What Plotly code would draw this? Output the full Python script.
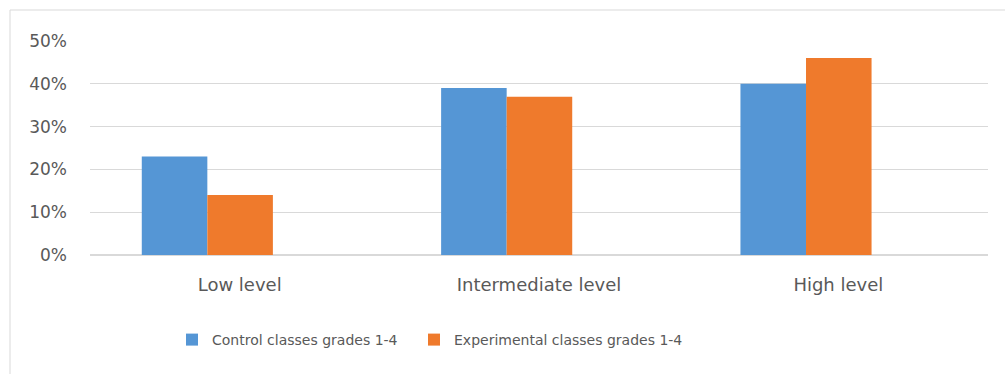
import plotly.graph_objects as go

# Share of pupils at each achievement level
levels = ["Low level", "Intermediate level", "High level"]
control = [0.23, 0.39, 0.40]
experimental = [0.14, 0.37, 0.46]
series_names = ["Control classes grades 1-4", "Experimental classes grades 1-4"]
y_ticks = [0, 0.1, 0.2, 0.3, 0.4, 0.5]

BLUE = "#5596d5"
ORANGE = "#ef7a2c"
TEXT = "#595959"
GRID = "#d9d9d9"

W, H = 1005, 374
ML, MR, MT, MB = 90, 17, 41, 119
PW, PH = W - ML - MR, H - MT - MB

def px_x(p):
    return (p - ML) / PW

def px_y(p):
    return (H - MB - p) / PH

fig = go.Figure()
fig.add_trace(go.Bar(
    x=levels, y=control, name=series_names[0],
    marker=dict(color=BLUE, line=dict(width=0)),
    offset=-0.327, width=0.219, legend="legend",
))
fig.add_trace(go.Bar(
    x=levels, y=experimental, name=series_names[1],
    marker=dict(color=ORANGE, line=dict(width=0)),
    offset=-0.108, width=0.219, legend="legend2",
))

yfont = dict(family="DejaVu Sans", size=17, color=TEXT)
xfont = dict(family="DejaVu Sans", size=18, color=TEXT)
lfont = dict(family="DejaVu Sans", size=14, color=TEXT)

legend_common = dict(
    orientation="h", xanchor="left", y=px_y(340), yanchor="middle",
    font=lfont, itemwidth=30, bgcolor="rgba(0,0,0,0)",
)

fig.update_layout(
    width=W, height=H,
    margin=dict(l=ML, r=MR, t=MT, b=MB, autoexpand=False),
    paper_bgcolor="white", plot_bgcolor="white",
    font=yfont,
    barmode="overlay",
    showlegend=True,
    legend=dict(x=px_x(172), **legend_common),
    legend2=dict(x=px_x(414), **legend_common),
    xaxis=dict(
        type="category", showgrid=False, zeroline=False,
        showline=True, linecolor=GRID, linewidth=1,
        ticks="", ticklabelstandoff=13, tickfont=xfont,
        fixedrange=True,
    ),
    yaxis=dict(
        range=[0, 0.5], tickvals=y_ticks, tickformat=".0%",
        showgrid=True, gridcolor=GRID, gridwidth=1,
        zeroline=True, zerolinecolor=GRID, showline=False,
        ticks="", ticklabelstandoff=22, tickfont=yfont,
        fixedrange=True,
    ),
    shapes=[dict(
        type="rect", xref="paper", yref="paper",
        x0=px_x(10), x1=px_x(1020), y0=px_y(390), y1=px_y(10),
        line=dict(color=GRID, width=1), fillcolor="rgba(0,0,0,0)",
        layer="below",
    )],
)

fig.write_html("out.html", config={"displayModeBar": False})
